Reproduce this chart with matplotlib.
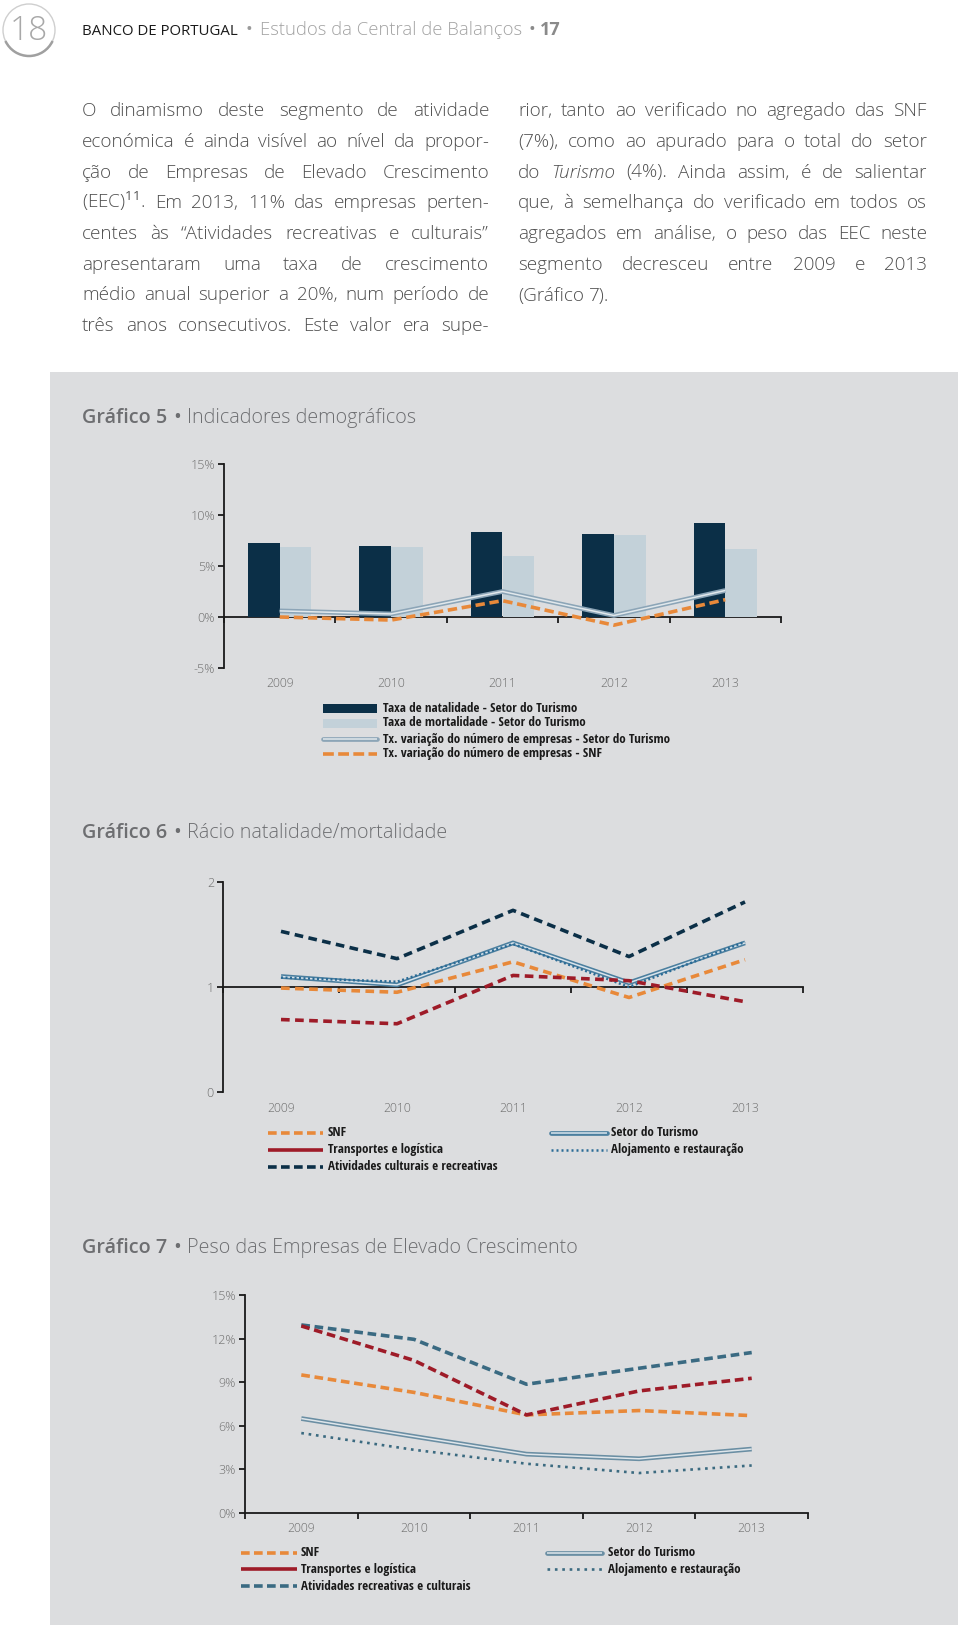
import matplotlib
matplotlib.use('Agg')
import matplotlib.pyplot as plt
from matplotlib import font_manager as fm
from matplotlib.patches import Rectangle, Circle, Arc
from matplotlib.transforms import blended_transform_factory
import numpy as np

# ---------------- data ----------------
years = ['2009', '2010', '2011', '2012', '2013']

# Gráfico 5 (%)
natalidade_turismo = [7.3, 7.0, 8.3, 8.1, 9.2]
mortalidade_turismo = [6.85, 6.85, 6.0, 8.0, 6.7]
var_empresas_turismo = [0.6, 0.3, 2.5, 0.15, 2.6]
var_empresas_snf = [0.0, -0.3, 1.6, -0.8, 1.7]
g5_yticks = [-5, 0, 5, 10, 15]
g5_yticklabels = ['-5%', '0%', '5%', '10%', '15%']
g5_legend = ['Taxa de natalidade - Setor do Turismo',
             'Taxa de mortalidade - Setor do Turismo',
             'Tx. variação do número de empresas - Setor do Turismo',
             'Tx. variação do número de empresas - SNF']

# Gráfico 6 (rácio)
g6_snf = [0.99, 0.95, 1.24, 0.90, 1.26]
g6_transportes = [0.69, 0.65, 1.11, 1.06, 0.86]
g6_culturais = [1.53, 1.27, 1.73, 1.29, 1.81]
g6_turismo = [1.10, 1.02, 1.42, 1.04, 1.42]
g6_alojamento = [1.09, 1.05, 1.41, 1.00, 1.43]
g6_yticks = [0, 1, 2]
g6_yticklabels = ['0', '1', '2']
g6_legend = ['SNF', 'Transportes e logística', 'Atividades culturais e recreativas',
             'Setor do Turismo', 'Alojamento e restauração']

# Gráfico 7 (%)
g7_snf = [9.5, 8.3, 6.75, 7.05, 6.7]
g7_transportes = [12.87, 10.5, 6.75, 8.4, 9.27]
g7_recreativas = [12.94, 11.95, 8.86, 9.96, 11.04]
g7_turismo = [6.5, 5.27, 4.05, 3.73, 4.4]
g7_alojamento = [5.5, 4.35, 3.39, 2.75, 3.27]
g7_yticks = [0, 3, 6, 9, 12, 15]
g7_yticklabels = ['0%', '3%', '6%', '9%', '12%', '15%']
g7_legend = ['SNF', 'Transportes e logística', 'Atividades recreativas e culturais',
             'Setor do Turismo', 'Alojamento e restauração']

left_col = [
    "O dinamismo deste segmento de atividade",
    "económica é ainda visível ao nível da propor-",
    "ção de Empresas de Elevado Crescimento",
    "(EEC)$^{11}$. Em 2013, 11% das empresas perten-",
    "centes às “Atividades recreativas e culturais”",
    "apresentaram uma taxa de crescimento",
    "médio anual superior a 20%, num período de",
    "três anos consecutivos. Este valor era supe-",
]
right_col = [
    "rior, tanto ao verificado no agregado das SNF",
    "(7%), como ao apurado para o total do setor",
    "do _Turismo (4%). Ainda assim, é de salientar",
    "que, à semelhança do verificado em todos os",
    "agregados em análise, o peso das EEC neste",
    "segmento decresceu entre 2009 e 2013",
    "(Gráfico 7).",
]

# ---------------- fonts ----------------
names = {f.name for f in fm.fontManager.ttflist}
def pick(*cands):
    for c in cands:
        if c in names:
            return c
    return 'DejaVu Sans'
SANS = pick('Open Sans', 'Noto Sans', 'DejaVu Sans')
COND = pick('Open Sans Condensed', 'Roboto Condensed', 'Liberation Sans Narrow', 'DejaVu Sans')
plt.rcParams['font.family'] = [SANS, 'DejaVu Sans']
plt.rcParams['mathtext.fontset'] = 'custom'
plt.rcParams['mathtext.rm'] = SANS
plt.rcParams['mathtext.it'] = SANS + ':italic'

# ---------------- colours ----------------
PANEL = '#dcdddf'
NAVY = '#0b2f47'
LIGHTBAR = '#c3d1d9'
ORANGE = '#e8893a'
RED = '#9e1b28'
STEEL = '#3a6a82'
TEXTGRAY = '#4f4f4f'
TITLEGRAY = '#6d6e71'
TICKGRAY = '#6f6f6f'

W, H = 960, 1625
fig = plt.figure(figsize=(W / 100, H / 100), dpi=100)
fig.patch.set_facecolor('white')
ov = fig.add_axes([0, 0, 1, 1], zorder=0)
ov.set_xlim(0, W)
ov.set_ylim(H, 0)
ov.axis('off')
r = fig.canvas.get_renderer()

ov.add_patch(Rectangle((50, 372), 908, 1253, facecolor=PANEL, edgecolor='none'))

# ---------------- header ----------------
ov.add_patch(Circle((29, 30), 26, facecolor='white', edgecolor='#cfcfcf', lw=1.0))
ov.add_patch(Arc((29, 30), 52, 52, theta1=25, theta2=155, color='#a0a0a0', lw=1.8))
ov.text(29, 31, '18', ha='center', va='center', fontsize=24, color='#a8a8a8', weight='light')

def seq(pieces, x, base):
    for txt, gap, kw in pieces:
        t = ov.text(x, base, txt, ha='left', va='baseline', **kw)
        x += t.get_window_extent(r).width + gap
    return x

seq([('BANCO DE PORTUGAL', 8, dict(fontsize=10.8, color='#1a1a1a')),
     ('•', 8, dict(fontsize=13, color='#9a9a9a')),
     ('Estudos da Central de Balanços', 6, dict(fontsize=13.3, color='#a3a3a3', weight='light')),
     ('•', 5, dict(fontsize=13, color='#8a8a8a')),
     ('17', 0, dict(fontsize=13, color='#8a8a8a', weight='bold'))], 82, 35)

# ---------------- body text ----------------
BODY = dict(fontsize=13.6, color=TEXTGRAY, weight='light')
def place_line(line, x0, x1, base, justify=True):
    arts = []
    for w in line.split(' '):
        style = 'normal'
        if w.startswith('_'):
            w = w[1:]
            style = 'italic'
        arts.append(ov.text(0, base, w, ha='left', va='baseline', style=style, **BODY))
    ws = [a.get_window_extent(r).width for a in arts]
    if justify and len(arts) > 1:
        gap = (x1 - x0 - sum(ws)) / (len(arts) - 1)
    else:
        gap = 5.0
    x = x0
    for a, w in zip(arts, ws):
        a.set_x(x)
        x += w + gap

for i, ln in enumerate(left_col):
    place_line(ln, 82, 489, 116 + i * 30.75)
for i, ln in enumerate(right_col):
    place_line(ln, 518, 927, 116 + i * 30.75, justify=(i < len(right_col) - 1))

# ---------------- chart titles ----------------
def chart_title(num, rest, base):
    seq([('Gráfico %d' % num, 6, dict(fontsize=14.2, color=TITLEGRAY, weight='semibold')),
         ('•', 6, dict(fontsize=15, color=TITLEGRAY)),
         (rest, 0, dict(fontsize=14.2, color=TITLEGRAY, weight='light'))], 82, base)

chart_title(5, 'Indicadores demográficos', 423)
chart_title(6, 'Rácio natalidade/mortalidade', 838)
chart_title(7, 'Peso das Empresas de Elevado Crescimento', 1253)

# ---------------- axes helper ----------------
TICKFONT = dict(family=[SANS, 'DejaVu Sans'], weight='light')
def make_axes(l, rgt, top, bot, ylim, yticks, ylabels, xaxis_at, year_y):
    ax = fig.add_axes([l / W, 1 - bot / H, (rgt - l) / W, (bot - top) / H], zorder=2)
    ax.set_facecolor('none')
    ax.set_xlim(-0.5, 4.5)
    ax.set_ylim(*ylim)
    for s in ['top', 'right']:
        ax.spines[s].set_visible(False)
    ax.spines['bottom'].set_position(('data', xaxis_at))
    for s in ['left', 'bottom']:
        ax.spines[s].set_linewidth(1.3)
        ax.spines[s].set_color('#1a1a1a')
        ax.spines[s].set_zorder(1)
    ax.set_xticks(np.arange(-0.5, 5.0, 1.0))
    ax.set_xticklabels([])
    ax.tick_params(axis='x', length=4, width=1.3, direction='out', color='#1a1a1a')
    ax.set_yticks(yticks)
    ax.set_yticklabels(ylabels)
    ax.tick_params(axis='y', length=4, width=1.3, direction='out', color='#1a1a1a',
                   pad=2.5, labelsize=9.0, labelcolor=TICKGRAY)
    for t in ax.get_yticklabels():
        t.set_family(TICKFONT['family'])
        t.set_weight('light')
    tr = blended_transform_factory(ax.transData, ax.transAxes)
    frac = -(year_y - bot) / (bot - top)
    for i, yr in enumerate(years):
        ax.text(i, frac, yr, transform=tr, ha='center', va='center', fontsize=8.8,
                color=TICKGRAY, clip_on=False, **TICKFONT)
    return ax

x = np.arange(len(years))
LW = 2.6

def double_line(ax, xs, ys, outer, inner, z=4):
    ax.plot(xs, ys, color=outer, lw=3.4, solid_capstyle='butt', zorder=z)
    ax.plot(xs, ys, color=inner, lw=1.1, solid_capstyle='butt', zorder=z + 0.1)

# ---------------- Gráfico 5 ----------------
ax5 = make_axes(224, 781, 464, 668, (-5, 15), g5_yticks, g5_yticklabels, 0, 683)
bw = 0.285
ax5.bar(x - bw / 2, natalidade_turismo, width=bw, color=NAVY, zorder=2)
ax5.bar(x + bw / 2, mortalidade_turismo, width=bw, color=LIGHTBAR, zorder=2)
double_line(ax5, x, var_empresas_turismo, '#8ca5b7', '#e1e8ec')
ax5.plot(x, var_empresas_snf, color=ORANGE, lw=LW, ls=(0, (2.6, 1.3)),
         dash_capstyle='butt', zorder=5)

LEG = dict(fontsize=9.4, color='#1a1a1a', family=[COND, 'DejaVu Sans'],
           stretch='condensed', weight='semibold', ha='left', va='center')
rows5 = [708, 723, 739, 754]
ov.add_patch(Rectangle((323, rows5[0] - 4.5), 54, 9, facecolor=NAVY, edgecolor='none'))
ov.add_patch(Rectangle((323, rows5[1] - 4.5), 54, 9, facecolor=LIGHTBAR, edgecolor='none'))
ov.plot([323, 377], [rows5[2]] * 2, color='#8ca5b7', lw=3.4, solid_capstyle='round')
ov.plot([323, 377], [rows5[2]] * 2, color='#e1e8ec', lw=1.1, solid_capstyle='butt')
ov.plot([323, 377], [rows5[3]] * 2, color=ORANGE, lw=LW, ls=(0, (3.0, 1.2)), dash_capstyle='butt')
for yy, lab in zip(rows5, g5_legend):
    ov.text(383, yy, lab, **LEG)

# ---------------- Gráfico 6 ----------------
ax6 = make_axes(223, 803, 882, 1092, (0, 2), g6_yticks, g6_yticklabels, 1, 1108)
ax6.plot(x, g6_culturais, color=NAVY, lw=LW, ls=(0, (2.4, 1.5)), dash_capstyle='butt', zorder=3)
double_line(ax6, x, g6_turismo, '#4b7f9f', '#d9e4ec', z=4)
ax6.plot(x, g6_alojamento, color='#2a6b96', lw=1.8, ls=(0, (0.8, 1.0)), zorder=4.5)
ax6.plot(x, g6_snf, color=ORANGE, lw=LW, ls=(0, (2.4, 1.5)), dash_capstyle='butt', zorder=5)
ax6.plot(x, g6_transportes, color=RED, lw=LW, ls=(0, (2.4, 1.5)), dash_capstyle='butt', zorder=5.5)

rows6 = [1133, 1150, 1167]
ov.plot([268, 323], [rows6[0]] * 2, color=ORANGE, lw=LW, ls=(0, (2.4, 1.2)), dash_capstyle='butt')
ov.plot([268, 323], [rows6[1]] * 2, color=RED, lw=LW, solid_capstyle='butt')
ov.plot([268, 323], [rows6[2]] * 2, color=NAVY, lw=LW, ls=(0, (2.4, 1.2)), dash_capstyle='butt')
ov.plot([551, 607], [rows6[0]] * 2, color='#4b7f9f', lw=3.4, solid_capstyle='round')
ov.plot([551, 607], [rows6[0]] * 2, color='#d9e4ec', lw=1.1, solid_capstyle='butt')
ov.plot([551, 607], [rows6[1]] * 2, color='#2a6b96', lw=1.8, ls=(0, (0.8, 1.2)))
for yy, lab in zip(rows6, g6_legend[:3]):
    ov.text(328, yy, lab, **LEG)
for yy, lab in zip(rows6[:2], g6_legend[3:]):
    ov.text(611, yy, lab, **LEG)

# ---------------- Gráfico 7 ----------------
ax7 = make_axes(245, 808, 1295, 1513, (0, 15), g7_yticks, g7_yticklabels, 0, 1529)
double_line(ax7, x, g7_turismo, '#6a8ea3', '#dfe6eb', z=3)
ax7.plot(x, g7_alojamento, color='#3b6a80', lw=1.9, ls=(0, (1.0, 1.8)), zorder=3)
ax7.plot(x, g7_snf, color=ORANGE, lw=LW, ls=(0, (2.4, 1.3)), dash_capstyle='butt', zorder=4)
ax7.plot(x, g7_recreativas, color=STEEL, lw=LW, ls=(0, (2.4, 1.3)), dash_capstyle='butt', zorder=4.5)
ax7.plot(x, g7_transportes, color=RED, lw=LW, ls=(0, (2.4, 1.3)), dash_capstyle='butt', zorder=5)

rows7 = [1553, 1569, 1586]
ov.plot([241, 297], [rows7[0]] * 2, color=ORANGE, lw=LW, ls=(0, (2.4, 1.2)), dash_capstyle='butt')
ov.plot([241, 297], [rows7[1]] * 2, color=RED, lw=LW, solid_capstyle='butt')
ov.plot([241, 297], [rows7[2]] * 2, color=STEEL, lw=LW, ls=(0, (2.4, 1.2)), dash_capstyle='butt')
ov.plot([547, 602], [rows7[0]] * 2, color='#6a8ea3', lw=3.4, solid_capstyle='round')
ov.plot([547, 602], [rows7[0]] * 2, color='#dfe6eb', lw=1.1, solid_capstyle='butt')
ov.plot([547, 602], [rows7[1]] * 2, color='#3b6a80', lw=1.9, ls=(0, (1.0, 1.8)))
for yy, lab in zip(rows7, g7_legend[:3]):
    ov.text(301, yy, lab, **LEG)
for yy, lab in zip(rows7[:2], g7_legend[3:]):
    ov.text(608, yy, lab, **LEG)

fig.savefig('out.png', dpi=100, facecolor='white')
